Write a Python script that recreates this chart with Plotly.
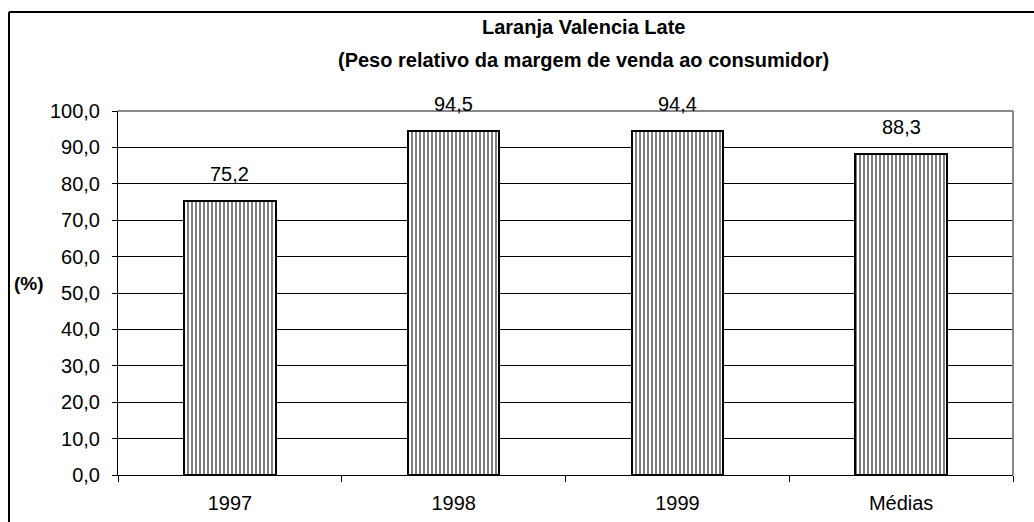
import plotly.graph_objects as go

categories = ["1997", "1998", "1999", "Médias"]
values = [75.2, 94.5, 94.4, 88.3]
y_ticks = [0, 10, 20, 30, 40, 50, 60, 70, 80, 90, 100]
title_line1 = "Laranja Valencia Late"
title_line2 = "(Peso relativo da margem de venda ao consumidor)"
y_label = "(%)"

FONT = "Liberation Sans, Arial, sans-serif"

fig = go.Figure()
fig.add_trace(go.Bar(
    x=categories,
    y=values,
    width=0.41,
    marker=dict(
        color="white",
        line=dict(color="black", width=2),
        pattern=dict(shape="|", fgcolor="black", bgcolor="white", size=4, solidity=0.5),
    ),
    hoverinfo="skip",
))

# value labels above each bar (positioned by category index)
for i, v in enumerate(values):
    fig.add_annotation(
        x=i, y=v, text=f"{v:.1f}".replace(".", ","),
        showarrow=False, yanchor="bottom", yshift=14,
        font=dict(family=FONT, size=20, color="black"),
    )

# titles
fig.add_annotation(xref="paper", yref="paper", x=0.5196, y=1.23, text=f"<b>{title_line1}</b>",
                   showarrow=False, xanchor="center", yanchor="middle",
                   font=dict(family=FONT, size=20, color="black"))
fig.add_annotation(xref="paper", yref="paper", x=0.5196, y=1.139, text=f"<b>{title_line2}</b>",
                   showarrow=False, xanchor="center", yanchor="middle",
                   font=dict(family=FONT, size=20, color="black"))
fig.add_annotation(xref="paper", yref="paper", x=(29 - 118) / 895, y=(475 - 283) / 364,
                   text=f"<b>{y_label}</b>", showarrow=False, xanchor="center", yanchor="middle",
                   font=dict(family=FONT, size=19, color="black"))

# plot-area frame (top and right, grey) and chart frame (left and top, black)
fig.add_shape(type="line", xref="paper", yref="paper", x0=0, x1=1, y0=1, y1=1,
              line=dict(color="#888888", width=2))
fig.add_shape(type="line", xref="paper", yref="paper", x0=1, x1=1, y0=0, y1=1,
              line=dict(color="#888888", width=2))
fig.add_shape(type="line", xref="paper", yref="paper", x0=(9 - 118) / 895, x1=(1040 - 118) / 895,
              y0=(475 - 12) / 364, y1=(475 - 12) / 364, line=dict(color="black", width=2))
fig.add_shape(type="line", xref="paper", yref="paper", x0=(9 - 118) / 895, x1=(9 - 118) / 895,
              y0=(475 - 12) / 364, y1=(475 - 530) / 364, line=dict(color="black", width=2))

fig.update_layout(
    width=1034, height=522,
    margin=dict(l=118, r=21, t=111, b=47, autoexpand=False),
    paper_bgcolor="white", plot_bgcolor="white",
    showlegend=False,
    separators=",.",
    bargap=0,
    xaxis=dict(
        type="category",
        range=[-0.5, len(categories) - 0.5],
        showline=True, linecolor="black", linewidth=1,
        ticks="outside", ticklen=6, tickcolor="black", tickson="boundaries",
        tickfont=dict(family=FONT, size=20, color="black"),
        tickangle=0,
        ticklabelstandoff=10,
        showgrid=False,
        automargin=False,
    ),
    yaxis=dict(
        range=[0, 100], tickvals=y_ticks, tickformat=".1f",
        showline=True, linecolor="black", linewidth=1,
        ticks="outside", ticklen=5, tickcolor="black",
        tickfont=dict(family=FONT, size=20, color="black"),
        ticklabelstandoff=8,
        showgrid=True, gridcolor="black", gridwidth=1,
        zeroline=False,
        automargin=False,
    ),
)

fig.write_html("out.html")
